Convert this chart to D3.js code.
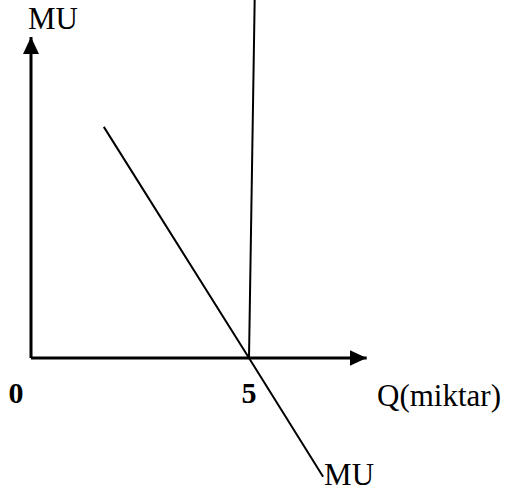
<!DOCTYPE html>
<html lang="tr">
<head>
<meta charset="utf-8">
<title>MU</title>
<script src="https://d3js.org/d3.v7.min.js"></script>
<style>
  body { margin: 0; background: #fff; }
  .lbl { font-family: "Liberation Serif", "Times New Roman", serif; font-size: 31px; fill: #000; }
  .tick-lbl { font-family: "Liberation Serif", "Times New Roman", serif; font-size: 30px; font-weight: bold; fill: #000; }
</style>
</head>
<body>
<div id="chart"></div>
<script>
// axis extents (Q units, MU units)
const axisQ = [0, 7.7];
const axisMU = [0, 10];

// marginal utility line
const muQ = [1.67, 5, 6.7];
const muVal = [7.2, 0, -3.7];

// near-vertical line at Q = 5
const vertQ = [5, 5.13];
const vertVal = [0, 11.15];

// tick labels
const tickQ = [0, 5];
const tickLabels = ["0", "5"];

const width = 506, height = 492;

const x = d3.scaleLinear().domain([0, 5]).range([31, 249]);
const y = d3.scaleLinear().domain([0, 10]).range([358, 37]);

const svg = d3.select("#chart").append("svg")
  .attr("width", width)
  .attr("height", height);

const defs = svg.append("defs");
defs.append("marker")
  .attr("id", "arrow")
  .attr("viewBox", "0 0 17 16")
  .attr("refX", 17)
  .attr("refY", 8)
  .attr("markerUnits", "userSpaceOnUse")
  .attr("markerWidth", 17)
  .attr("markerHeight", 16)
  .attr("orient", "auto")
  .append("path")
  .attr("d", "M0,0 L17,8 L0,16 Z")
  .attr("fill", "#000");

const line = d3.line().x(d => x(d[0])).y(d => y(d[1]));

// axes
svg.append("path")
  .attr("d", line([[axisQ[0], 0], [axisQ[1], 0]]))
  .attr("stroke", "#000").attr("stroke-width", 3).attr("fill", "none")
  .attr("marker-end", "url(#arrow)");
svg.append("path")
  .attr("d", line([[0, axisMU[0]], [0, axisMU[1]]]))
  .attr("stroke", "#000").attr("stroke-width", 3).attr("fill", "none")
  .attr("marker-end", "url(#arrow)");

// MU curve
svg.append("path")
  .attr("d", line(muQ.map((q, i) => [q, muVal[i]])))
  .attr("stroke", "#000").attr("stroke-width", 2).attr("fill", "none");

// vertical line
svg.append("path")
  .attr("d", line(vertQ.map((q, i) => [q, vertVal[i]])))
  .attr("stroke", "#000").attr("stroke-width", 2).attr("fill", "none");

// tick labels
svg.selectAll(".tick-lbl")
  .data(tickQ)
  .enter().append("text")
  .attr("class", "tick-lbl")
  .attr("x", (d, i) => i === 0 ? x(d) - 15 : x(d))
  .attr("y", 403)
  .attr("text-anchor", "middle")
  .text((d, i) => tickLabels[i]);

// axis titles
svg.append("text").attr("class", "lbl")
  .attr("x", 28).attr("y", 29).text("MU");
svg.append("text").attr("class", "lbl")
  .attr("x", 377).attr("y", 406).text("Q(miktar)");
svg.append("text").attr("class", "lbl")
  .attr("x", x(muQ[2]) + 1).attr("y", 485).text("MU");
</script>
</body>
</html>
